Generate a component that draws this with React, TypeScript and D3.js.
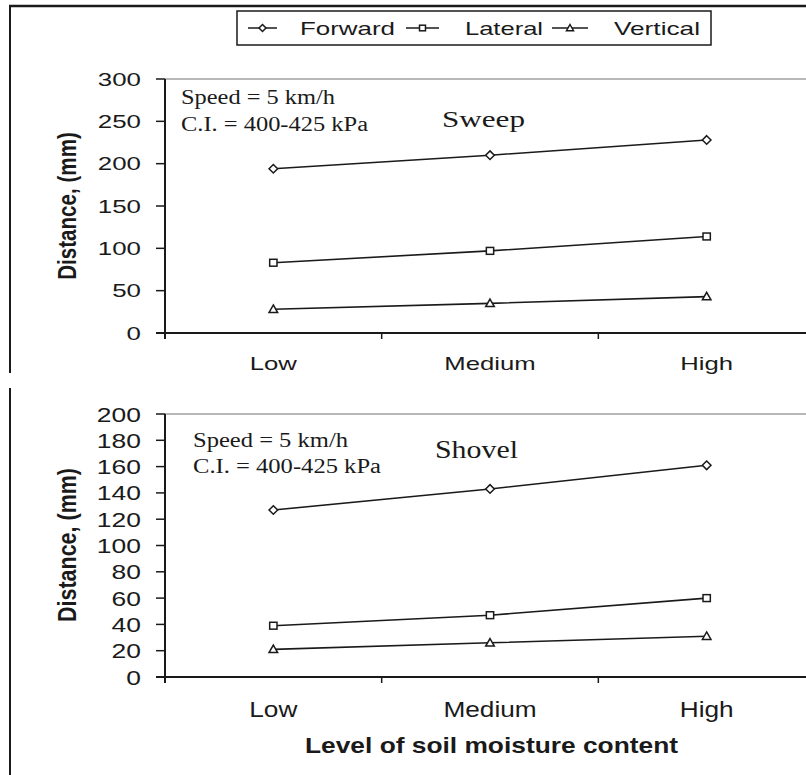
import React from 'react';
import * as d3 from 'd3';

const categories = ['Low', 'Medium', 'High'];
const seriesNames = ['Forward', 'Lateral', 'Vertical'];
const sweepForward = [194, 210, 228];
const sweepLateral = [83, 97, 114];
const sweepVertical = [28, 35, 43];
const shovelForward = [127, 143, 161];
const shovelLateral = [39, 47, 60];
const shovelVertical = [21, 26, 31];
const sweepTicks = [0, 50, 100, 150, 200, 250, 300];
const shovelTicks = [0, 20, 40, 60, 80, 100, 120, 140, 160, 180, 200];
const annotation1 = 'Speed = 5 km/h';
const annotation2 = 'C.I. = 400-425 kPa';
const yTitle = 'Distance, (mm)';
const xTitle = 'Level of soil moisture content';

const SANS = '"Liberation Sans", Arial, sans-serif';
const SERIF = '"Liberation Serif", "Times New Roman", serif';
const INK = '#1a1a1a';

type Panel = {
  name: string;
  values: number[][];
  ticks: number[];
  max: number;
  yTop: number;
  yBot: number;
  tickFont: number;
  tickSx: number;
  xLabFont: number;
  xLabSx: number;
  xLabBase: number;
  titleX: number;
  titleBase: number;
  titleFont: number;
  titleLen: number;
  annX: number;
  ann1Base: number;
  ann2Base: number;
  ann1Len: number;
  ann2Len: number;
  yTitleY: number;
  yTitleFont: number;
  yTitleSx: number;
};

const panels: Panel[] = [
  {
    name: 'Sweep', values: [sweepForward, sweepLateral, sweepVertical], ticks: sweepTicks, max: 300,
    yTop: 79, yBot: 333, tickFont: 18.5, tickSx: 1.4, xLabFont: 18.6, xLabSx: 1.38, xLabBase: 370,
    titleX: 442, titleBase: 127, titleFont: 24, titleLen: 83,
    annX: 181, ann1Base: 104, ann2Base: 131, ann1Len: 154, ann2Len: 187,
    yTitleY: 206, yTitleFont: 20.6, yTitleSx: 1.29,
  },
  {
    name: 'Shovel', values: [shovelForward, shovelLateral, shovelVertical], ticks: shovelTicks, max: 200,
    yTop: 414, yBot: 677, tickFont: 21, tickSx: 1.26, xLabFont: 21.5, xLabSx: 1.22, xLabBase: 717,
    titleX: 435, titleBase: 458, titleFont: 26, titleLen: 83,
    annX: 193, ann1Base: 447, ann2Base: 473, ann1Len: 155, ann2Len: 188,
    yTitleY: 545, yTitleFont: 21.5, yTitleSx: 1.23,
  },
];

const xScale = d3.scaleBand<string>().domain(categories).range([165, 815]);
const AXIS_X = 165;
const RIGHT = 806;

function Marker({ kind, x, y, r }: { kind: number; x: number; y: number; r: number }) {
  const common = { fill: '#fff', stroke: INK, strokeWidth: 1.5 };
  if (kind === 0) {
    const p = d3.path();
    p.moveTo(x, y - r); p.lineTo(x + r, y); p.lineTo(x, y + r); p.lineTo(x - r, y); p.closePath();
    return <path d={p.toString()} {...common} />;
  }
  if (kind === 1) {
    return <rect x={x - r * 0.85} y={y - r * 0.8} width={r * 1.7} height={r * 1.6} {...common} />;
  }
  const p = d3.path();
  p.moveTo(x, y - r); p.lineTo(x + r, y + r * 0.75); p.lineTo(x - r, y + r * 0.75); p.closePath();
  return <path d={p.toString()} {...common} />;
}

function PanelView({ pn }: { pn: Panel }) {
  const y = d3.scaleLinear().domain([0, pn.max]).range([pn.yBot, pn.yTop]);
  const line = d3.line<number>().x((_, i) => xScale(categories[i])! + xScale.bandwidth() / 2).y(v => y(v));
  const boundaries = categories.slice(1).map(c => xScale(c)!);
  return (
    <g>
      {/* plot top frame */}
      <line x1={AXIS_X} x2={RIGHT} y1={pn.yTop} y2={pn.yTop} stroke="#a0a0a0" strokeWidth={1.5} />
      {/* y axis */}
      <line x1={AXIS_X} x2={AXIS_X} y1={pn.yTop} y2={pn.yBot + 6} stroke={INK} strokeWidth={2} />
      {pn.ticks.map(t => (
        <g key={t}>
          <line x1={156} x2={AXIS_X} y1={y(t)} y2={y(t)} stroke={INK} strokeWidth={1.5} />
          <text transform={`translate(141,${y(t) + pn.tickFont * 0.36}) scale(${pn.tickSx},1)`}
            textAnchor="end" fontFamily={SANS} fontSize={pn.tickFont} fill={INK}>{t}</text>
        </g>
      ))}
      {/* x axis */}
      <line x1={156} x2={RIGHT} y1={pn.yBot} y2={pn.yBot} stroke={INK} strokeWidth={2} />
      {boundaries.map((b, i) => (
        <line key={i} x1={b} x2={b} y1={pn.yBot} y2={pn.yBot + 6} stroke={INK} strokeWidth={1.5} />
      ))}
      {categories.map(c => (
        <text key={c} transform={`translate(${xScale(c)! + xScale.bandwidth() / 2},${pn.xLabBase}) scale(${pn.xLabSx},1)`}
          textAnchor="middle" fontFamily={SANS} fontSize={pn.xLabFont} fill={INK}>{c}</text>
      ))}
      {/* y title */}
      <text transform={`translate(76,${pn.yTitleY}) scale(${pn.yTitleSx},1) rotate(-90)`} textAnchor="middle"
        fontFamily={SANS} fontWeight="bold" fontSize={pn.yTitleFont} fill={INK}>{yTitle}</text>
      {/* annotations */}
      <text x={pn.annX} y={pn.ann1Base} fontFamily={SERIF} fontSize={20} fill={INK}
        textLength={pn.ann1Len} lengthAdjust="spacingAndGlyphs">{annotation1}</text>
      <text x={pn.annX} y={pn.ann2Base} fontFamily={SERIF} fontSize={20} fill={INK}
        textLength={pn.ann2Len} lengthAdjust="spacingAndGlyphs">{annotation2}</text>
      <text x={pn.titleX} y={pn.titleBase} fontFamily={SERIF} fontSize={pn.titleFont} fill={INK}
        textLength={pn.titleLen} lengthAdjust="spacingAndGlyphs">{pn.name}</text>
      {/* series */}
      {pn.values.map((vals, si) => (
        <g key={si}>
          <path d={line(vals)!} fill="none" stroke={INK} strokeWidth={1.6} />
          {vals.map((v, i) => (
            <Marker key={i} kind={si} x={xScale(categories[i])! + xScale.bandwidth() / 2} y={y(v)} r={4.3} />
          ))}
        </g>
      ))}
    </g>
  );
}

const legendLines = [[248, 277], [406, 439], [552, 588]];
const legendText = [[300, 95], [465, 78], [614, 86]];

export default function App() {
  return (
    <svg width={806} height={775} style={{ position: 'absolute', left: 0, top: 0, background: '#fff' }}>
      <rect x={0} y={0} width={806} height={775} fill="#fff" />
      {/* outer frame */}
      <line x1={9} x2={806} y1={6} y2={6} stroke={INK} strokeWidth={2.5} />
      <line x1={10} x2={10} y1={5} y2={373} stroke={INK} strokeWidth={2} />
      <line x1={10} x2={10} y1={388} y2={775} stroke={INK} strokeWidth={2} />
      {panels.map(pn => <PanelView key={pn.name} pn={pn} />)}
      {/* legend */}
      <rect x={237} y={11} width={474} height={34} fill="#fff" stroke={INK} strokeWidth={1.5} />
      {seriesNames.map((s, i) => (
        <g key={s}>
          <line x1={legendLines[i][0]} x2={legendLines[i][1]} y1={28} y2={28} stroke={INK} strokeWidth={1.5} />
          <Marker kind={i} x={(legendLines[i][0] + legendLines[i][1]) / 2} y={28} r={3.5} />
          <text x={legendText[i][0]} y={35} fontFamily={SANS} fontSize={18.6} fill={INK}
            textLength={legendText[i][1]} lengthAdjust="spacingAndGlyphs">{s}</text>
        </g>
      ))}
      <text x={491.5} y={753} textAnchor="middle" fontFamily={SANS} fontWeight="bold" fontSize={22.5} fill={INK}
        textLength={373} lengthAdjust="spacingAndGlyphs">{xTitle}</text>
    </svg>
  );
}
